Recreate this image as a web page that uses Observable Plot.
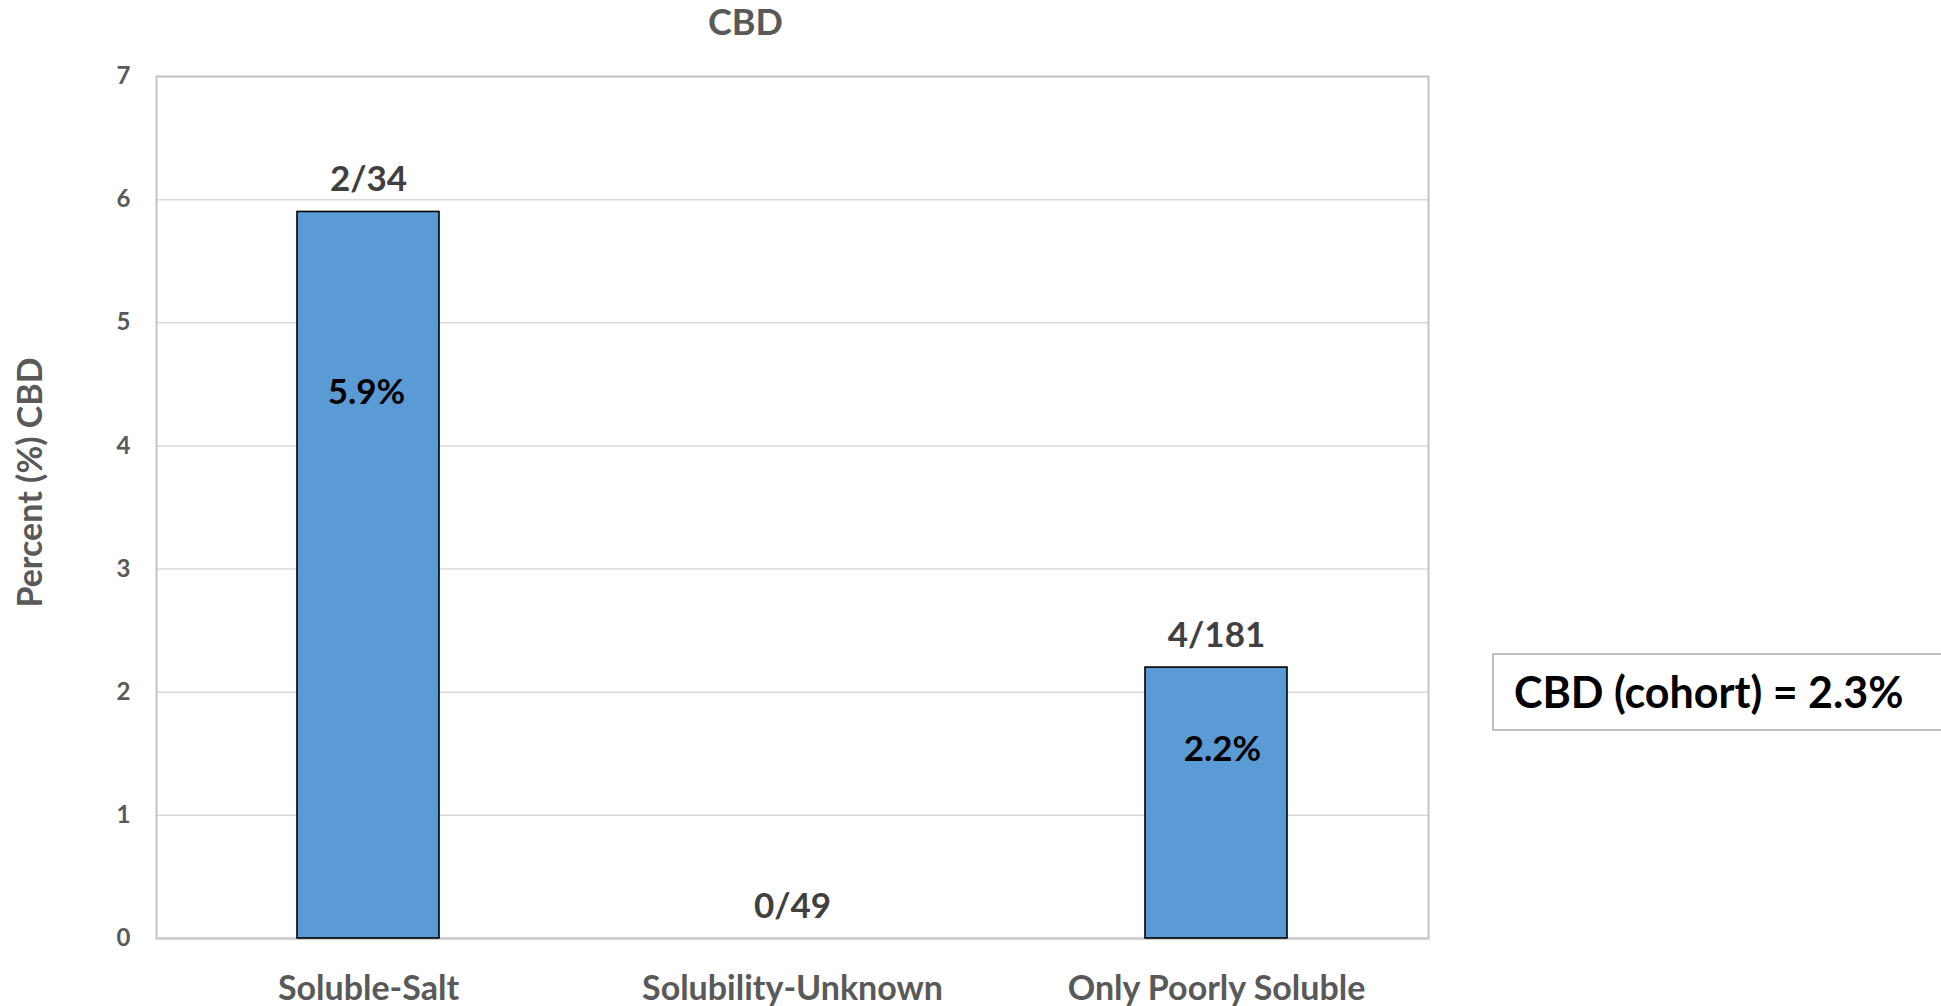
<!DOCTYPE html>
<html>
<head>
<meta charset="utf-8">
<script src="https://cdn.jsdelivr.net/npm/d3@7"></script>
<script src="https://cdn.jsdelivr.net/npm/@observablehq/plot@0.6"></script>
<style>
  html, body { margin: 0; padding: 0; background: #fff; overflow: hidden; }
  #wrap { position: relative; width: 1941px; height: 1006px; }
  #cohort {
    position: absolute; left: 1492px; top: 653px; width: 470px; height: 74px;
    border: 2px solid #bfbfbf; background: #fff; box-sizing: content-box;
    font-family: Lato, "Open Sans", sans-serif; font-weight: bold; font-size: 43px;
    color: #000; line-height: 74px; padding-left: 20px; white-space: nowrap;
  }
</style>
</head>
<body>
<div id="wrap"></div>
<script>
const categories = ["Soluble-Salt", "Solubility-Unknown", "Only Poorly Soluble"];
const percents = [5.9, 0, 2.2];
const fractions = ["2/34", "0/49", "4/181"];
const percentLabels = ["5.9%", "", "2.2%"];
const yTicks = [0, 1, 2, 3, 4, 5, 6, 7];
const titleText = "CBD";
const yLabelText = "Percent (%) CBD";
const cohortText = "CBD (cohort) = 2.3%";

const data = categories.map((c, i) => ({
  category: c, value: percents[i], fraction: fractions[i], pct: percentLabels[i]
}));

const font = "Lato, 'Open Sans', sans-serif";
const gray = "#595959";

const chart = Plot.plot({
  width: 1941,
  height: 1006,
  marginTop: 76,
  marginBottom: 68,
  marginLeft: 156,
  marginRight: 513,
  style: { fontFamily: font, background: "#fff", overflow: "visible" },
  x: { domain: categories, paddingInner: 0.665, paddingOuter: 0.3325 },
  y: { domain: [0, 7] },
  marks: [
    Plot.gridY(yTicks, { stroke: "#d9d9d9", strokeOpacity: 1, strokeWidth: 1.5 }),
    Plot.frame({ stroke: "#c4c4c4", strokeWidth: 2 }),
    Plot.ruleY([0], { stroke: "#d0d0d0", strokeWidth: 2.5 }),
    Plot.barY(data.filter(d => d.value > 0), {
      x: "category", y: "value", fill: "#5B9BD5", stroke: "#000", strokeWidth: 1.6
    }),
    Plot.axisY({
      ticks: yTicks, tickSize: 0, tickPadding: 26, fontSize: 24, fontWeight: "bold",
      color: gray, label: null, tickFormat: d => String(d)
    }),
    Plot.axisX({
      tickSize: 0, tickPadding: 37, fontSize: 34, fontWeight: "bold",
      color: gray, label: null
    }),
    Plot.text(data, {
      x: "category", y: "value", text: "fraction", dy: -32, lineAnchor: "middle",
      fontSize: 35, fontWeight: "bold", fill: "#404040"
    }),
    Plot.text(data.filter(d => d.category === categories[0]), {
      x: "category", y: "value", text: "pct", dy: 181, dx: -2, lineAnchor: "middle",
      fontSize: 35, fontWeight: "bold", fill: "#000"
    }),
    Plot.text(data.filter(d => d.category === categories[2]), {
      x: "category", y: "value", text: "pct", dy: 82, dx: 6, lineAnchor: "middle",
      fontSize: 35, fontWeight: "bold", fill: "#000"
    }),
    Plot.text([titleText], {
      frameAnchor: "top-left", dx: 589, dy: -53, textAnchor: "middle", lineAnchor: "middle",
      fontSize: 36, fontWeight: "bold", fill: gray
    }),
    Plot.text([yLabelText], {
      frameAnchor: "left", dx: -125, dy: -25, rotate: -90, textAnchor: "middle", lineAnchor: "middle",
      fontSize: 34, fontWeight: "bold", fill: gray
    })
  ]
});

const wrap = document.getElementById("wrap");
wrap.appendChild(chart);
const box = document.createElement("div");
box.id = "cohort";
box.textContent = cohortText;
wrap.appendChild(box);
</script>
</body>
</html>
